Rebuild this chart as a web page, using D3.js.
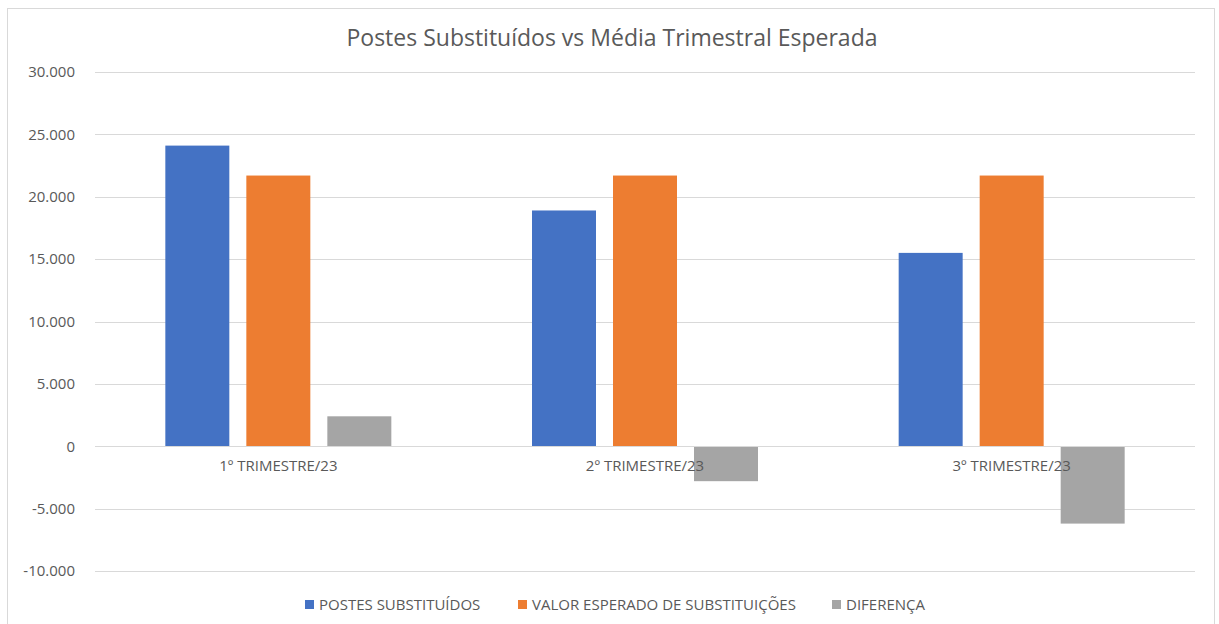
<!DOCTYPE html>
<html>
<head>
<meta charset="utf-8">
<script src="https://cdn.jsdelivr.net/npm/d3@7"></script>
<style>
  body { margin: 0; background: #fff; }
  text { font-family: "Open Sans", "Noto Sans", sans-serif; fill: #595959; }
</style>
</head>
<body>
<script>
var svgWidth = 1219;
var svgHeight = 624;

// data
var categories = ['1º TRIMESTRE/23', '2º TRIMESTRE/23', '3º TRIMESTRE/23'];
var seriesNames = ['POSTES SUBSTITUÍDOS', 'VALOR ESPERADO DE SUBSTITUIÇÕES', 'DIFERENÇA'];
var postes = [24100, 18900, 15500];
var esperado = [21700, 21700, 21700];
var diferenca = [2400, -2800, -6200];
var yTicks = [-10000, -5000, 0, 5000, 10000, 15000, 20000, 25000, 30000];
var colors = ['#4472c4', '#ed7d31', '#a5a5a5'];

var series = [postes, esperado, diferenca];

var svg = d3.select('body').append('svg')
  .attr('width', svgWidth)
  .attr('height', svgHeight);

// chart border
svg.append('rect')
  .attr('x', 7.5).attr('y', 8.5)
  .attr('width', 1207).attr('height', 630)
  .attr('fill', 'none')
  .attr('stroke', '#d9d9d9');

var plotLeft = 95, plotRight = 1195;

var y = d3.scaleLinear().domain([-10000, 30000]).range([571, 72]);
var x0 = d3.scaleBand().domain(categories).range([plotLeft, plotRight]).paddingInner(0).paddingOuter(0);
var x1 = d3.scaleBand().domain(d3.range(3)).range([0, 226]).paddingInner(0.21).paddingOuter(0);

var fmt = function(v){ return d3.format(',')(v).replace(/,/g, '.').replace('−', '-'); };

// gridlines
svg.append('g').selectAll('line').data(yTicks)
  .enter().append('line')
  .attr('x1', plotLeft).attr('x2', plotRight)
  .attr('y1', function(d){ return Math.round(y(d)) + 0.5; })
  .attr('y2', function(d){ return Math.round(y(d)) + 0.5; })
  .attr('stroke', '#d9d9d9')
  .attr('stroke-width', 1);

// y axis labels
var yAxis = d3.axisLeft(y).tickValues(yTicks).tickFormat(fmt).tickSize(0).tickPadding(0);
var gy = svg.append('g').attr('transform', 'translate(75,0)').call(yAxis);
gy.select('.domain').remove();
gy.selectAll('text').style('font-size', '15px').attr('fill', '#595959');

// bars
var groups = svg.append('g').selectAll('g').data(categories)
  .enter().append('g')
  .attr('transform', function(d){ return 'translate(' + (x0(d) + (x0.bandwidth() - 226) / 2) + ',0)'; });

groups.selectAll('rect').data(function(d, i){
    return series.map(function(s, k){ return {k: k, v: s[i]}; });
  })
  .enter().append('rect')
  .attr('x', function(d){ return x1(d.k); })
  .attr('width', x1.bandwidth())
  .attr('y', function(d){ return d.v >= 0 ? y(d.v) : y(0); })
  .attr('height', function(d){ return Math.abs(y(d.v) - y(0)); })
  .attr('fill', function(d){ return colors[d.k]; });

// zero line on top of bars
svg.append('line')
  .attr('x1', plotLeft).attr('x2', plotRight)
  .attr('y1', Math.round(y(0)) + 0.5).attr('y2', Math.round(y(0)) + 0.5)
  .attr('stroke', '#d9d9d9');

// category labels
var xAxis = d3.axisBottom(x0).tickSize(0).tickPadding(0);
var gx = svg.append('g').attr('transform', 'translate(0,' + (y(0) + 14) + ')').call(xAxis);
gx.select('.domain').remove();
gx.selectAll('text').style('font-size', '15px').attr('fill', '#595959').attr('dy', '0.71em');

// title
svg.append('text')
  .attr('x', 612).attr('y', 46)
  .attr('text-anchor', 'middle')
  .style('font-size', '23px')
  .text('Postes Substituídos vs Média Trimestral Esperada');

// legend
var legendX = [305, 518, 832];
var legend = svg.append('g').selectAll('g').data(seriesNames)
  .enter().append('g')
  .attr('transform', function(d, i){ return 'translate(' + legendX[i] + ',605)'; });
legend.append('rect')
  .attr('x', 0).attr('y', -5).attr('width', 9).attr('height', 9)
  .attr('fill', function(d, i){ return colors[i]; });
legend.append('text')
  .attr('x', 14).attr('y', 5)
  .style('font-size', '15px')
  .text(function(d){ return d; });
</script>
</body>
</html>
